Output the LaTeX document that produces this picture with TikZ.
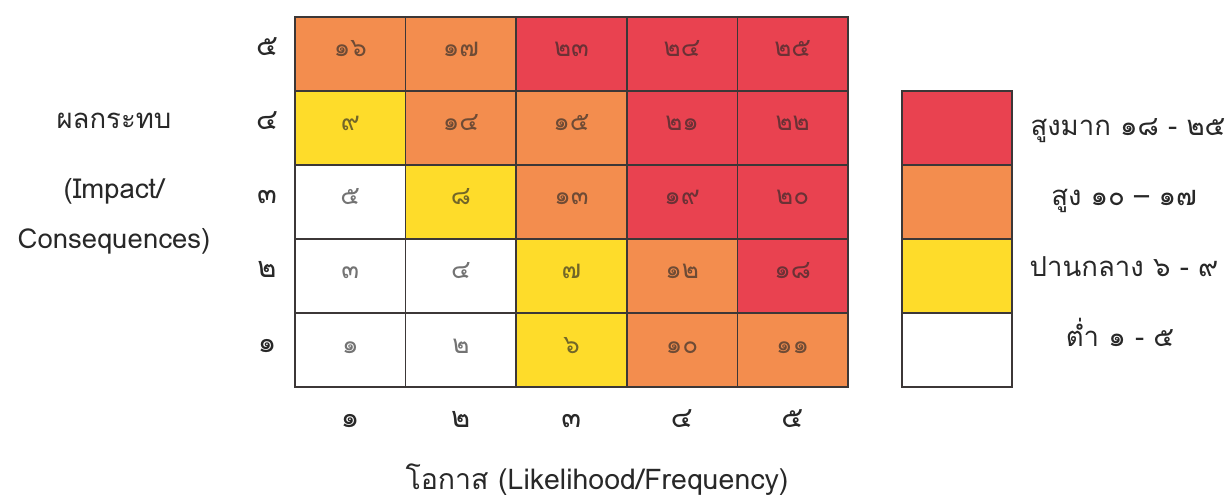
\documentclass[tikz,border=0pt]{standalone}
\usepackage{fontspec}
\setmainfont[Script=Thai]{Loma}
\definecolor{rred}{RGB}{233,66,80}
\definecolor{rorange}{RGB}{243,141,78}
\definecolor{ryellow}{RGB}{254,220,42}
\definecolor{rline}{RGB}{60,55,55}
\definecolor{rtext}{RGB}{40,40,40}
\begin{document}
\begin{tikzpicture}[x=1pt,y=-1pt,
  cell/.style={draw=rline,line width=1.6pt,minimum width=110.6pt,minimum height=74pt,inner sep=0pt,outer sep=0pt,anchor=north west},
  cnum/.style={text=rtext,text opacity=0.65,font=\fontsize{26}{26}\selectfont,inner sep=0pt,anchor=base},
  axnum/.style={text=rtext,font=\fontsize{29}{29}\selectfont,inner sep=0pt,anchor=base},
  lbl/.style={text=rtext,font=\fontsize{27.5}{28}\selectfont,inner sep=0pt,anchor=base},
  R/.style={cell,fill=rred},O/.style={cell,fill=rorange},Y/.style={cell,fill=ryellow},W/.style={cell,fill=white}]
\useasboundingbox (0,0) rectangle (1225,502);
\fill[white] (0,0) rectangle (1225,502);
% grid
\foreach \r/\row in {0/{O/๑๖,O/๑๗,R/๒๓,R/๒๔,R/๒๕},
                     1/{Y/๙,O/๑๔,O/๑๕,R/๒๑,R/๒๒},
                     2/{W/๕,Y/๘,O/๑๓,R/๑๙,R/๒๐},
                     3/{W/๓,W/๔,Y/๗,O/๑๒,R/๑๘},
                     4/{W/๑,W/๒,Y/๖,O/๑๐,O/๑๑}}{
  \foreach [count=\c from 0] \st/\txt in \row {
    \node[\st] (c\r\c) at ({295+110.6*\c},{17+74*\r}) {};
    \node[cnum] (t\r\c) at ([yshift=-40pt]c\r\c.north) {\txt};
  }
}
% row labels
\foreach \r/\d in {0/๕,1/๔,2/๓,3/๒,4/๑}{
  \node[axnum] (rl\r) at (267,{56+74*\r}) {\d};
}
% column labels
\foreach \c/\d in {0/๑,1/๒,2/๓,3/๔,4/๕}{
  \node[axnum] (cl\c) at ({350+110.6*\c},427) {\d};
}
% axis titles
\node[lbl] (imp1) at (114,129) {ผลกระทบ};
\node[lbl] (imp2) at (114,199) {(Impact/};
\node[lbl] (imp3) at (114,249) {Consequences)};
\node[lbl,font=\fontsize{28.5}{29}\selectfont] (lik) at (597,489) {โอกาส (Likelihood/Frequency)};
% legend
\node[R,minimum width=110pt] (l1) at (902,91) {};
\node[O,minimum width=110pt] (l2) at (902,165) {};
\node[Y,minimum width=110pt] (l3) at (902,239) {};
\node[W,minimum width=110pt] (l4) at (902,313) {};
\node[lbl] (lt1) at (1128,136) {สูงมาก ๑๘ - ๒๕};
\node[lbl] (lt2) at (1124,206) {สูง ๑๐ – ๑๗};
\node[lbl] (lt3) at (1124,277) {ปานกลาง ๖ - ๙};
\node[lbl] (lt4) at (1120,346) {ต่ำ ๑ - ๕};
\end{tikzpicture}
\end{document}
